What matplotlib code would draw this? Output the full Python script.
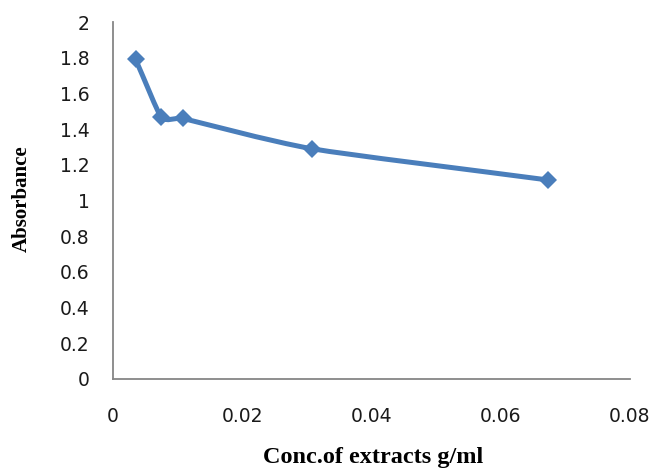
import matplotlib
matplotlib.use("Agg")
import matplotlib.pyplot as plt
import numpy as np
from matplotlib.path import Path
from matplotlib.patches import PathPatch

# Absorbance against extract concentration
conc = [0.0035, 0.0075, 0.0108, 0.0308, 0.0673]
absorbance = [1.79, 1.465, 1.46, 1.29, 1.115]

x_ticks = [0, 0.02, 0.04, 0.06, 0.08]
x_tick_labels = ["0", "0.02", "0.04", "0.06", "0.08"]
y_ticks = [0, 0.2, 0.4, 0.6, 0.8, 1.0, 1.2, 1.4, 1.6, 1.8, 2.0]
y_tick_labels = ["0", "0.2", "0.4", "0.6", "0.8", "1", "1.2", "1.4", "1.6", "1.8", "2"]

LINE_COLOR = "#4a7ebb"
AXIS_COLOR = "#868686"


def smooth_path(ax, xs, ys):
    """Smoothed Bezier path through the points, built in display space.
    Handle length at each point is limited by its shorter neighbouring
    segment, which keeps short segments from bulging."""
    to_disp = ax.transData
    pts = to_disp.transform(np.column_stack([xs, ys]).astype(float))
    n = len(pts)
    seg = [np.hypot(*(pts[i + 1] - pts[i])) for i in range(n - 1)]
    tangents, handles = [], []
    for i in range(n):
        a = pts[i - 1] if i > 0 else pts[i]
        b = pts[i + 1] if i < n - 1 else pts[i]
        d = b - a
        tangents.append(d / np.hypot(*d))
        if i == 0:
            handles.append(seg[0] / 3.0)
        elif i == n - 1:
            handles.append(seg[-1] / 3.0)
        else:
            handles.append(min(seg[i - 1], seg[i]) * 0.3)
    verts = [pts[0]]
    codes = [Path.MOVETO]
    for i in range(n - 1):
        p0, p1 = pts[i], pts[i + 1]
        c1 = p0 + tangents[i] * min(handles[i], seg[i] / 3.0)
        c2 = p1 - tangents[i + 1] * min(handles[i + 1], seg[i] / 3.0)
        verts += [c1, c2, p1]
        codes += [Path.CURVE4] * 3
    verts = to_disp.inverted().transform(np.array(verts))
    return Path(verts, codes)


fig = plt.figure(figsize=(6.54, 4.70), dpi=100)
ax = fig.add_axes([113 / 654, 91 / 470, 517 / 654, 357 / 470])
ax.set_xlim(0, 0.08)
ax.set_ylim(0, 2)

ax.add_patch(PathPatch(smooth_path(ax, conc, absorbance), facecolor="none",
                       edgecolor=LINE_COLOR, linewidth=3.6,
                       capstyle="round", joinstyle="round", zorder=2))
ax.plot(conc, absorbance, linestyle="none", marker="D", markersize=9,
        markerfacecolor=LINE_COLOR, markeredgewidth=0, zorder=3)

ax.set_xticks(x_ticks)
ax.set_xticklabels(x_tick_labels)
ax.set_yticks(y_ticks)
ax.set_yticklabels(y_tick_labels)

ax.tick_params(axis="both", length=0, labelsize=13.5, labelcolor="#1a1a1a")
ax.tick_params(axis="y", pad=17)
ax.tick_params(axis="x", pad=20)

for side in ("top", "right"):
    ax.spines[side].set_visible(False)
for side in ("left", "bottom"):
    ax.spines[side].set_color(AXIS_COLOR)
    ax.spines[side].set_linewidth(1.3)

label_font = dict(family="Liberation Serif", fontweight="bold", color="black")
fig.text(373 / 654, 1 - 458 / 470, "Conc.of extracts g/ml", ha="center",
         va="center", fontsize=17.5, **label_font)
fig.text(22 / 654, 1 - 199 / 470, "Absorbance", ha="center", va="center",
         rotation=90, fontsize=15, **label_font)

fig.savefig("out.png", dpi=100, facecolor="white")
